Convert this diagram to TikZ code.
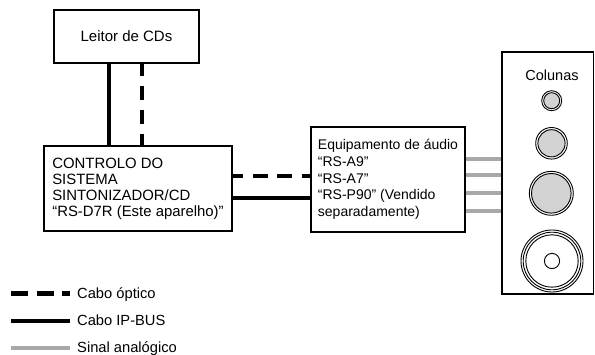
\documentclass[tikz,border=0pt]{standalone}
\usepackage{fontspec}
\setmainfont{Liberation Sans}
\begin{document}
\begin{tikzpicture}[x=1pt,y=-1pt,
  box/.style={draw=black,line width=1.3pt,fill=white,inner sep=0pt,align=left},
  ipbus/.style={line width=4.5pt,black},
  optic/.style={line width=4.5pt,black,dash pattern=on 15 off 9.5},
  analog/.style={line width=4pt,color=analoggray},
  ring/.style={draw=black,line width=0.9pt},
  cone/.style={draw=black,line width=0.9pt,fill=conegray},
  legtext/.style={anchor=base west,inner sep=0pt,font=\fontsize{14.7}{16}\selectfont}]
\definecolor{analoggray}{HTML}{A8A8A8}
\definecolor{conegray}{HTML}{D2D2D2}
\useasboundingbox (0,0) rectangle (595,355);

% equipment boxes
\node[box,minimum width=145pt,minimum height=53pt,font=\fontsize{15}{16}\selectfont]
  (leitor) at (126.5,36.5) {Leitor de CDs};
\node[box,minimum width=188pt,minimum height=85pt,font=\fontsize{14.9}{16.1}\selectfont]
  (ctrl) at (138,188.5) {CONTROLO DO\\SISTEMA\\SINTONIZADOR/CD\\“RS-D7R (Este aparelho)”};
\node[box,minimum width=154pt,minimum height=105pt,font=\fontsize{14}{16.8}\selectfont]
  (equip) at (388,179.5) {Equipamento de áudio\\“RS-A9”\\“RS-A7”\\“RS-P90” (Vendido\\separadamente)};
\node[box,minimum width=91.5pt,minimum height=242pt] (spk) at (547.75,173) {};
\node[inner sep=0pt,font=\fontsize{14.5}{16}\selectfont] (cols) at (552,75) {Colunas};

% CD player to system control
\draw[ipbus] ([xshift=-17.5pt]leitor.south) -- ([xshift=-17.5pt]leitor.south |- ctrl.north);
\draw[optic,dash pattern=on 14 off 10,dash phase=1.3]
  ([xshift=15.5pt]leitor.south) -- ([xshift=15.5pt]leitor.south |- ctrl.north);

% system control to audio equipment
\draw[optic,dash phase=4.4] ([yshift=12.5pt]ctrl.east) -- ([yshift=12.5pt]ctrl.east -| equip.west);
\draw[ipbus] ([yshift=-9.5pt]ctrl.east) -- ([yshift=-9.5pt]ctrl.east -| equip.west);

% analogue outputs to the speakers
\foreach \dy in {20.5,4.5,-13.5,-31.5}
  \draw[analog] ([yshift=\dy pt]equip.east) -- ([yshift=\dy pt]equip.east -| spk.west);
\node[box,minimum width=91.5pt,minimum height=242pt,fill=none] at (spk.center) {};

% drivers
\draw[ring] (551.7,100.7) circle (10);
\draw[cone] (551.7,100.7) circle (8);
\draw[ring] (551.5,143.3) circle (15.8);
\draw[cone] (551.5,143.3) circle (13.6);
\draw[ring] (551.3,193.3) circle (22);
\draw[cone] (551.3,193.3) circle (19.8);
\draw[ring] (552,261) circle (31);
\draw[ring] (552,261) circle (28.8);
\draw[ring] (552,261) circle (26.2);
\draw[ring] (552,261) circle (7.6);

% legend
\coordinate (la) at (11,293.3);  \coordinate (lb) at (70,293.3);
\coordinate (ma) at (11,321);    \coordinate (mb) at (70,321);
\coordinate (na) at (11,348.3);  \coordinate (nb) at (70,348.3);
\draw[optic,dash pattern=on 17 off 8.5] (la) -- (lb);
\draw[ipbus] (ma) -- (mb);
\draw[analog] (na) -- (nb);
\node[legtext] (lt1) at (77,298.4) {Cabo óptico};
\node[legtext] (lt2) at (77,325.8) {Cabo IP-BUS};
\node[legtext] (lt3) at (77,352.8) {Sinal analógico};
\end{tikzpicture}
\end{document}
